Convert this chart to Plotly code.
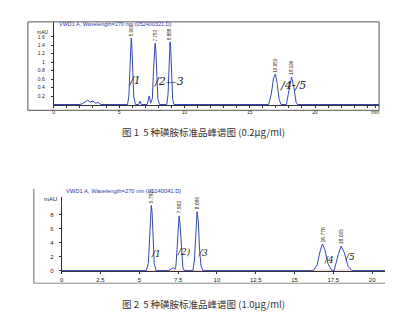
import plotly.graph_objects as go

W, H = 398, 325

# ---------------- data: chart 1 (0.2 ug/ml) ----------------
t1 = [0, 2.0, 2.2, 2.4, 2.6, 2.8, 3.0, 3.2, 3.4, 3.6, 5.0, 5.65, 5.75, 5.83, 5.9, 5.93, 5.97, 6.03, 6.12, 6.25,
      6.5, 6.6, 6.7, 7.15, 7.3, 7.42, 7.55, 7.63, 7.7, 7.76, 7.81, 7.88, 7.97, 8.1,
      8.65, 8.75, 8.83, 8.9, 8.95, 9.02, 9.1, 9.2, 16.45, 16.65, 16.82, 16.96, 17.1, 17.25, 17.4,
      17.8, 17.97, 18.2, 18.38, 18.55, 18.65, 24.9]
y1 = [0, 0, 0.02, 0.07, 0.1, 0.06, 0.08, 0.03, 0.05, 0, 0, 0, 0.2, 0.9, 1.5, 1.57, 1.45, 0.85, 0.2, 0,
      0, 0.08, 0, 0, 0.2, 0.03, 0.15, 0.8, 1.35, 1.45, 1.3, 0.7, 0.12, 0,
      0, 0.25, 0.9, 1.48, 1.35, 0.7, 0.12, 0, 0, 0.25, 0.62, 0.72, 0.5, 0.12, 0,
      0, 0.28, 0.65, 0.4, 0.05, 0, 0]
peak_t1 = [5.93, 7.76, 8.9, 16.96, 18.2]
peak_h1 = [1.57, 1.45, 1.48, 0.72, 0.65]
peak_lab1 = ["5.909", "7.753", "8.888", "16.959", "18.196"]

# ---------------- data: chart 2 (1.0 ug/ml) ----------------
t2 = [0, 2.8, 3.0, 3.2, 5.45, 5.58, 5.66, 5.72, 5.77, 5.82, 5.88, 5.96, 6.08, 6.9, 7.1, 7.2, 7.3,
      7.35, 7.43, 7.5, 7.56, 7.62, 7.7, 7.8, 7.9, 8.45, 8.55, 8.64, 8.72, 8.8, 8.88, 8.98, 9.1,
      16.2, 16.45, 16.65, 16.8, 16.95, 17.15, 17.4, 17.55, 17.8, 18.0, 18.2, 18.45, 18.7, 20.83]
y2 = [0, 0, 0.1, 0, 0, 1.0, 5.0, 8.6, 9.3, 8.4, 4.5, 1.0, 0, 0, 0.3, 0.4, 0.2,
      0.5, 3.0, 6.8, 7.8, 6.8, 3.0, 0.5, 0, 0, 1.5, 5.5, 8.4, 7.0, 3.0, 0.6, 0,
      0, 0.8, 2.8, 3.8, 3.0, 1.0, 0, 0, 2.2, 3.5, 2.6, 0.6, 0, 0]
peak_t2 = [5.77, 7.56, 8.72, 16.8, 18.0]
peak_h2 = [9.3, 7.8, 8.4, 3.8, 3.5]
peak_lab2 = ["5.792", "7.563", "8.690", "16.776", "18.005"]

x1_ticks = [0, 5, 10, 15, 20, 24.6]
x1_text = ["0", "5", "10", "15", "20", "min"]
y1_ticks = [0.2, 0.4, 0.6, 0.8, 1.0, 1.2, 1.4, 1.6]
y1_text = ["0.2", "0.4", "0.6", "0.8", "1", "1.2", "1.4", "1.6"]
x2_ticks = [0, 2.5, 5, 7.5, 10, 12.5, 15, 17.5, 20]
x2_text = ["0", "2.5", "5", "7.5", "10", "12.5", "15", "17.5", "20"]
y2_ticks = [0, 2, 4, 6, 8]

caption1 = "图 1  5 种磺胺标准品峰谱图 (0.2μg/ml)"
caption2 = "图 2  5 种磺胺标准品峰谱图 (1.0μg/ml)"
title1 = "VWD1 A, Wavelength=270 nm (052400321.D)"
title2 = "VWD1 A, Wavelength=270 nm (05240041.D)"

BLUE = "#3346c0"
AX = "#333333"

def px(x):
    return x / W

def py(y):
    return 1 - y / H

fig = go.Figure()
fig.add_trace(go.Scatter(x=t1, y=y1, mode="lines", line=dict(color=BLUE, width=1),
                         xaxis="x", yaxis="y", hoverinfo="skip", showlegend=False))
fig.add_trace(go.Scatter(x=[0, 20.83], y=[0.05, 0.05], mode="lines", line=dict(color="#f0a0a0", width=0.6),
                         xaxis="x2", yaxis="y2", hoverinfo="skip", showlegend=False))
fig.add_trace(go.Scatter(x=t2, y=y2, mode="lines", line=dict(color=BLUE, width=1),
                         xaxis="x2", yaxis="y2", hoverinfo="skip", showlegend=False))

tickfont = dict(family="Liberation Sans, Arial", size=6, color="#222")

fig.update_layout(
    width=W, height=H, margin=dict(l=0, r=0, t=0, b=0),
    paper_bgcolor="white", plot_bgcolor="white",
    xaxis=dict(domain=[px(52), px(379)], range=[0, 24.9], anchor="y",
               tickvals=x1_ticks, ticktext=x1_text, ticks="outside", ticklen=2, tickcolor=AX,
               showline=True, linecolor=AX, linewidth=1, showgrid=False, zeroline=False,
               tickfont=dict(family="Liberation Sans, Arial", size=5, color="#222"),
               minor=dict(dtick=1, ticks="outside", ticklen=1.5, tickcolor=AX)),
    yaxis=dict(domain=[py(106), py(22)], range=[-0.02, 1.953], anchor="x",
               tickvals=y1_ticks, ticktext=y1_text, ticks="outside", ticklen=2, tickcolor=AX,
               showline=True, linecolor=AX, linewidth=1, showgrid=False, zeroline=False,
               ticklabelstandoff=5,
               tickfont=dict(family="Liberation Sans, Arial", size=5, color="#222")),
    xaxis2=dict(domain=[px(60), px(385)], range=[0, 20.83], anchor="y2",
                tickvals=x2_ticks, ticktext=x2_text, ticks="outside", ticklen=2, tickcolor=AX,
                showline=True, linecolor=AX, linewidth=1, showgrid=False, zeroline=False,
                tickfont=tickfont),
    yaxis2=dict(domain=[py(273), py(198)], range=[-0.1, 10.53], anchor="x2",
                tickvals=y2_ticks, ticks="outside", ticklen=2, tickcolor=AX,
                showline=True, linecolor=AX, linewidth=1, showgrid=False, zeroline=False,
                ticklabelstandoff=4, tickfont=tickfont),
)

# frames
fig.add_shape(type="rect", xref="paper", yref="paper", x0=px(26), x1=px(379), y0=py(111), y1=py(22),
              line=dict(color="#555", width=1))
fig.add_shape(type="line", xref="paper", yref="paper", x0=px(32), x1=px(32), y0=py(190), y1=py(285),
              line=dict(color="#666", width=1))
fig.add_shape(type="line", xref="paper", yref="paper", x0=px(32), x1=px(385), y0=py(285), y1=py(285),
              line=dict(color="#888", width=1))

ann = []
# titles
ann.append(dict(text=title1, xref="paper", yref="paper", x=px(55), y=py(24), xanchor="left", yanchor="middle",
                showarrow=False, font=dict(family="Liberation Sans, Arial", size=5.5, color="#2a3aa8")))
ann.append(dict(text=title2, xref="paper", yref="paper", x=px(62), y=py(192), xanchor="left", yanchor="middle",
                showarrow=False, font=dict(family="Liberation Sans, Arial", size=5.8, color="#2a3aa8")))
# mAU labels
ann.append(dict(text="mAU", xref="paper", yref="paper", x=px(33), y=py(32), xanchor="left", yanchor="middle",
                showarrow=False, font=dict(family="Liberation Sans, Arial", size=5, color="#222")))
ann.append(dict(text="mAU", xref="paper", yref="paper", x=px(40), y=py(200), xanchor="left", yanchor="middle",
                showarrow=False, font=dict(family="Liberation Sans, Arial", size=6, color="#222")))
# peak labels
for t, h, lab in zip(peak_t1, peak_h1, peak_lab1):
    ann.append(dict(text=lab, x=t, y=h, xref="x", yref="y", textangle=-90, xanchor="center", yanchor="bottom",
                    showarrow=False, font=dict(family="Liberation Sans, Arial", size=4.5, color="#222")))
for t, h, lab in zip(peak_t2, peak_h2, peak_lab2):
    ann.append(dict(text=lab, x=t, y=h, xref="x2", yref="y2", textangle=-90, xanchor="center", yanchor="bottom",
                    showarrow=False, font=dict(family="Liberation Sans, Arial", size=5, color="#222")))
# handwritten peak numbers
hand = dict(family="DejaVu Serif", size=11, color="#222", style="italic")
hand2 = dict(family="DejaVu Serif", size=9, color="#222", style="italic")
for txt, x, y in [("/1", 6.2, 0.56), ("/2—3", 8.85, 0.55), ("/4-/5", 18.3, 0.44)]:
    ann.append(dict(text=txt, x=x, y=y, xref="x", yref="y", showarrow=False, font=hand))
for txt, x, y in [("/1", 6.1, 2.3), ("/2)", 7.9, 2.7), ("/3", 9.1, 2.5), ("/4", 17.2, 1.5), ("/5", 18.6, 1.9)]:
    ann.append(dict(text=txt, x=x, y=y, xref="x2", yref="y2", showarrow=False, font=hand2))
# captions
capfont = dict(family="Noto Sans CJK SC", size=9.5, color="#333")
ann.append(dict(text=caption1, xref="paper", yref="paper", x=px(203), y=py(133), xanchor="center",
                yanchor="middle", showarrow=False, font=capfont))
ann.append(dict(text=caption2, xref="paper", yref="paper", x=px(203), y=py(306), xanchor="center",
                yanchor="middle", showarrow=False, font=capfont))

fig.update_layout(annotations=ann)
fig.write_html("out.html")
